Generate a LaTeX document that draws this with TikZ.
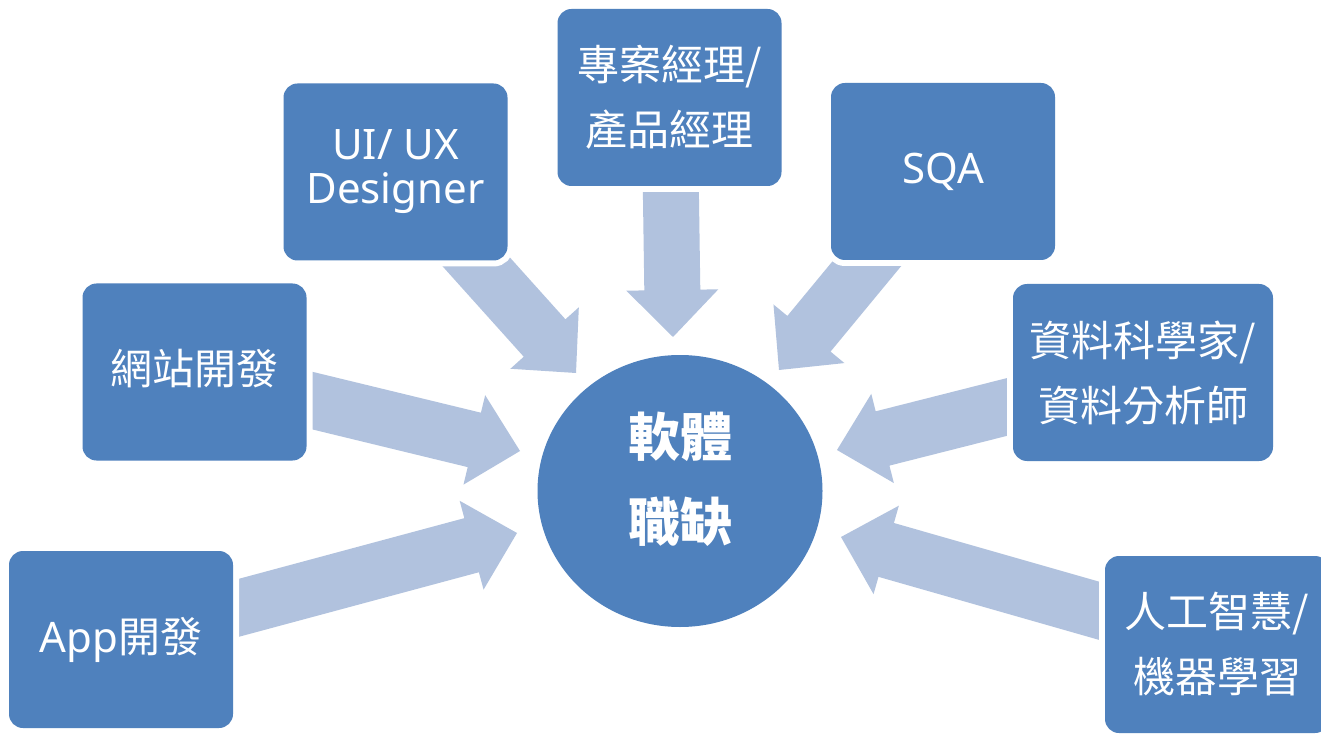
\documentclass[tikz,border=0pt]{standalone}
\usepackage{fontspec}
\setmainfont{Noto Sans}
\newfontfamily\cjk{Noto Sans CJK TC}
\usetikzlibrary{calc,shapes.geometric}
\definecolor{boxblue}{RGB}{79,129,189}
\definecolor{arrowblue}{RGB}{177,194,222}
\pgfdeclarelayer{bg}
\pgfsetlayers{bg,main}
\newcommand\blockarr[2]{%
  \coordinate (#1H) at ($(#2)!35.25pt!(#1)$);
  \fill[arrowblue] ($(#1)!21pt!90:(#2)$) -- ($(#1H)!21pt!90:(#2)$) -- ($(#1H)!34.5pt!90:(#2)$) -- (#2)
     -- ($(#1H)!34.5pt!-90:(#2)$) -- ($(#1H)!21pt!-90:(#2)$) -- ($(#1)!21pt!-90:(#2)$) -- cycle;}
\begin{document}
\begin{tikzpicture}[x=0.75pt,y=-0.75pt,
  box/.style={rectangle, rounded corners=10.5pt, fill=boxblue,
    preaction={draw=white,line width=9pt},
    minimum width=168pt, minimum height=132.75pt, inner sep=0pt,
    text=white, align=center, font=\fontsize{31.5}{48.75}\selectfont},
  cjkbox/.style={box, font=\cjk\fontsize{31.5}{48.75}\selectfont},
  hub/.style={ellipse, fill=boxblue, minimum width=213.75pt, minimum height=204pt, inner sep=0pt},
  hubtext/.style={text=white, align=center, inner sep=0pt, font=\cjk\bfseries\fontsize{39}{64}\selectfont}]
\useasboundingbox (0,0) rectangle (1321,734);
\clip (0,0) rectangle (1321,734);
% boxes
\node[box] (app) at (121,639.5) {App{\cjk 開發}};
\node[cjkbox] (web) at (194.5,372) {\raisebox{7.5pt}{網站開發}};
\node[box, font=\fontsize{31.5}{33}\selectfont] (ui) at (395.5,172) {UI/ UX\\Designer};
\node[cjkbox] (pm) at (669.5,97.5) {專案經理/\\產品經理};
\node[box] (sqa) at (943,171.5) {SQA};
\node[cjkbox, minimum width=195pt] (ds) at (1143,372.5) {資料科學家/\\資料分析師};
\node[cjkbox] (ai) at (1217,644.5) {人工智慧/\\機器學習};
\node[hub] (hub) at (680,491) {};
\node[hubtext] (hubtext) at (680,479.5) {軟體\\職缺};
% arrow tips
\coordinate (appT) at (517,533);
\coordinate (webT) at (520,451);
\coordinate (uiT) at (576,373);
\coordinate (pmT) at (673,337);
\coordinate (sqaT) at (779,370);
\coordinate (dsT) at (837,450);
\coordinate (aiT) at (841,537);
\begin{pgfonlayer}{bg}
\fill[white] (0,0) rectangle (1321,734);
\blockarr{app}{appT}
\blockarr{web}{webT}
\blockarr{ui}{uiT}
\blockarr{pm}{pmT}
\blockarr{sqa}{sqaT}
\blockarr{ds}{dsT}
\blockarr{ai}{aiT}
\end{pgfonlayer}
\end{tikzpicture}
\end{document}
